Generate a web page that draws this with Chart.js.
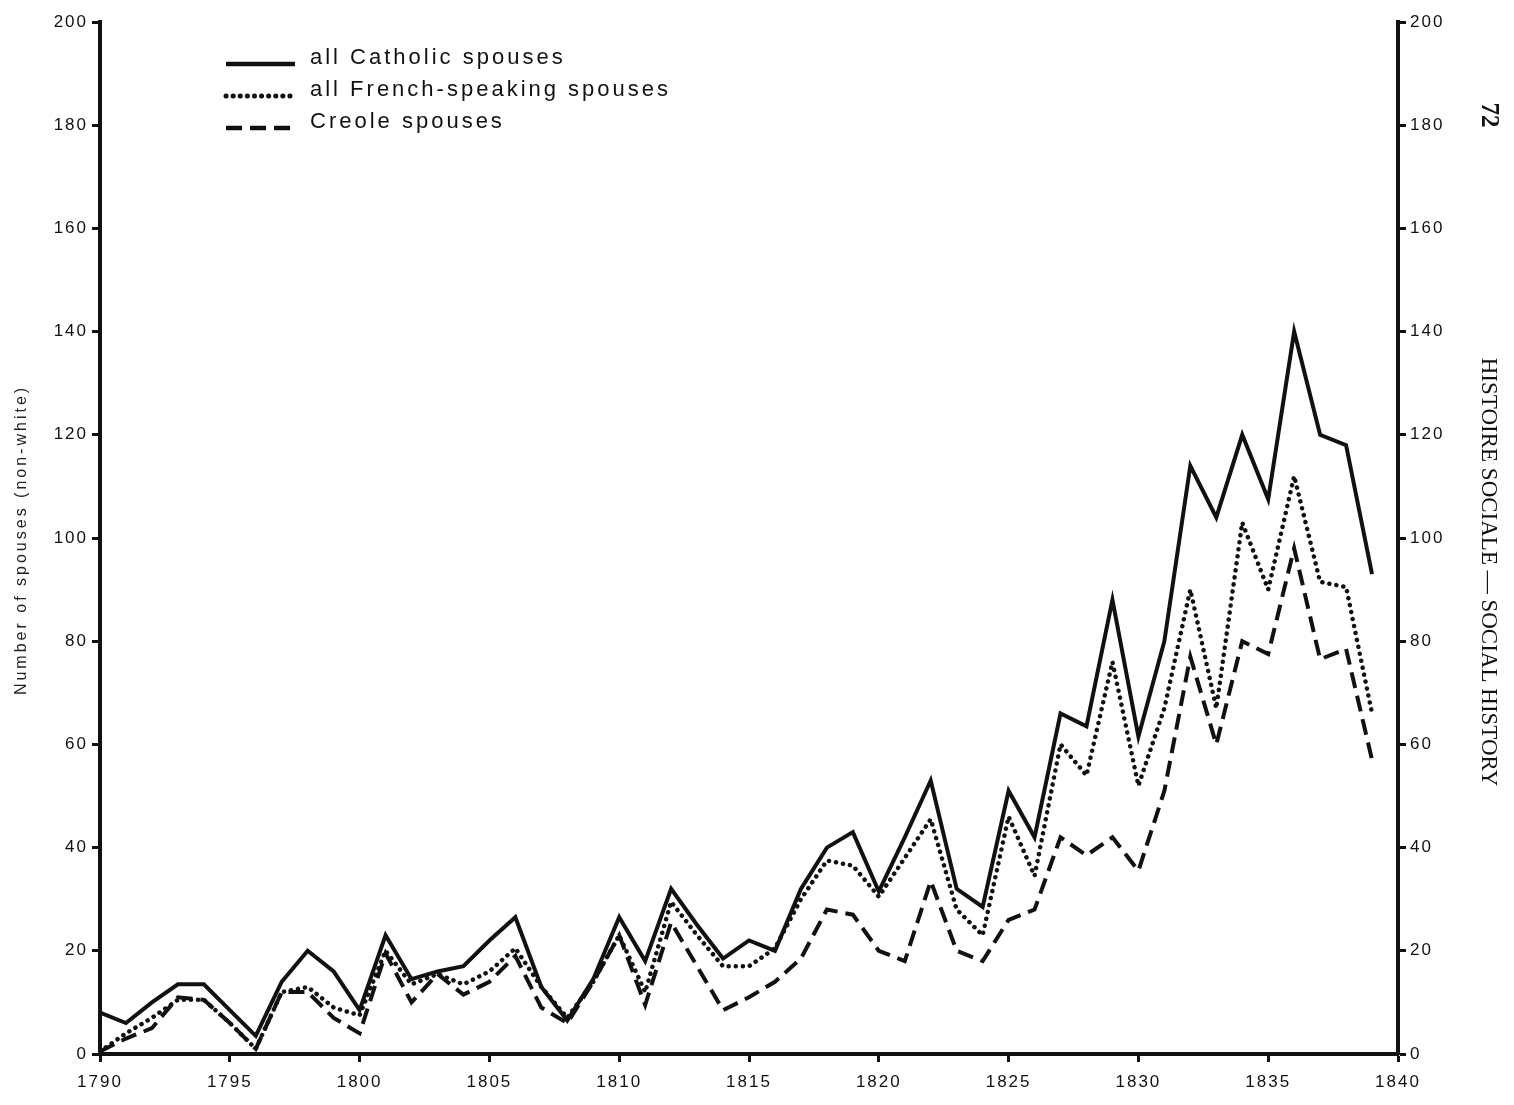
<!DOCTYPE html>
<html lang="en">
<head>
    <meta charset="UTF-8">
    <title>Non-white spouses, 1790-1839</title>
    <script src="https://cdn.jsdelivr.net/npm/chart.js"></script>
    <style>
        html, body { margin: 0; padding: 0; background: #fff; }
        #wrap { width: 1514px; height: 1105px; }
    </style>
</head>
<body>
    <div id="wrap"><canvas id="chart" width="1514" height="1105"></canvas></div>

    <script>
        // values, one per year 1790-1839
        const years = [1790, 1791, 1792, 1793, 1794, 1795, 1796, 1797, 1798, 1799,
                       1800, 1801, 1802, 1803, 1804, 1805, 1806, 1807, 1808, 1809,
                       1810, 1811, 1812, 1813, 1814, 1815, 1816, 1817, 1818, 1819,
                       1820, 1821, 1822, 1823, 1824, 1825, 1826, 1827, 1828, 1829,
                       1830, 1831, 1832, 1833, 1834, 1835, 1836, 1837, 1838, 1839];

        const catholic = [8, 6, 10, 13.5, 13.5, 8.5, 3.5, 14, 20, 16,
                          8.5, 23, 14.5, 16, 17, 22, 26.5, 13, 6.5, 14.5,
                          26.5, 18, 32, 25, 18.5, 22, 20, 32, 40, 43,
                          31.5, 42, 53, 32, 28.5, 51, 42, 66, 63.5, 88,
                          61.5, 80, 114, 104, 120, 107.5, 140, 120, 118, 93];

        const french = [0.5, 4, 7, 10.5, 10.5, 6, 1, 12, 13, 9,
                        7.5, 20, 13.5, 15.5, 13.5, 16, 20.5, 13, 7, 14,
                        23, 12, 29.5, 23, 17, 17, 20.5, 30, 37.5, 36.5,
                        30.5, 38, 45.5, 28, 23, 46, 34.5, 60, 54, 76,
                        52, 67, 90, 67, 103, 90, 112, 91.5, 90.5, 66];

        const creole = [0.5, 3, 5, 11, 10.5, 6, 1, 12, 12, 7,
                        4, 19.5, 10, 15.5, 11.5, 14, 19, 9, 6, 14,
                        23, 9.5, 25.5, 17, 8.5, 11, 14, 18.5, 28, 27,
                        20, 18, 33.5, 20, 18, 26, 28, 42, 38.5, 42,
                        35.5, 51, 77, 60, 80, 77.5, 98, 76.5, 78.5, 57];

        const seriesLabels = ['all Catholic spouses', 'all French-speaking spouses', 'Creole spouses'];
        const xTicks = [1790, 1795, 1800, 1805, 1810, 1815, 1820, 1825, 1830, 1835, 1840];
        const yTicks = [0, 20, 40, 60, 80, 100, 120, 140, 160, 180, 200];

        const INK = '#111';
        const sansFont = '"Liberation Sans", Arial, Helvetica, sans-serif';
        const serifFont = '"Liberation Serif", "DejaVu Serif", "Times New Roman", serif';

        const points = vals => years.map((yr, i) => ({ x: yr, y: vals[i] }));

        // keep the wide spacing of the old typewritten labels
        const spacingPlugin = {
            id: 'spacing',
            beforeUpdate(chart) { chart.ctx.letterSpacing = '2px'; },
            beforeDraw(chart) { chart.ctx.letterSpacing = '2px'; }
        };

        // legend in the upper left, plus the page furniture on the right edge
        const notesPlugin = {
            id: 'notes',
            afterDraw(chart) {
                const ctx = chart.ctx;
                ctx.save();

                chart.data.datasets.forEach((ds, i) => {
                    const y = 64 + i * 32;
                    ctx.strokeStyle = ds.borderColor;
                    ctx.lineWidth = ds.borderWidth + 0.5;
                    ctx.lineCap = ds.borderCapStyle || 'butt';
                    ctx.setLineDash(ds.borderDash || []);
                    ctx.beginPath();
                    ctx.moveTo(226, y);
                    ctx.lineTo(295, y);
                    ctx.stroke();
                    ctx.setLineDash([]);
                    ctx.fillStyle = INK;
                    ctx.font = '22px ' + sansFont;
                    ctx.letterSpacing = '3px';
                    ctx.textBaseline = 'middle';
                    ctx.textAlign = 'left';
                    ctx.fillText(ds.label, 310, y - 6);
                });

                // left axis title
                ctx.letterSpacing = '3px';
                ctx.font = '16px ' + sansFont;
                ctx.fillStyle = '#222';
                ctx.translate(22, 540);
                ctx.rotate(-Math.PI / 2);
                ctx.textAlign = 'center';
                ctx.textBaseline = 'middle';
                ctx.fillText('Number of spouses (non-white)', 0, 0);
                ctx.setTransform(1, 0, 0, 1, 0, 0);

                // journal page number and running head
                ctx.letterSpacing = '0px';
                ctx.fillStyle = INK;
                ctx.font = 'bold 25px ' + serifFont;
                ctx.translate(1488, 115);
                ctx.rotate(Math.PI / 2);
                ctx.fillText('72', 0, 0);
                ctx.setTransform(1, 0, 0, 1, 0, 0);

                ctx.font = '23px ' + serifFont;
                ctx.translate(1488, 572);
                ctx.rotate(Math.PI / 2);
                ctx.fillText('HISTOIRE SOCIALE \u2014 SOCIAL HISTORY', 0, 0, 436);
                ctx.restore();
            }
        };

        const tickFont = { family: sansFont, size: 17 };
        const axisGrid = { drawOnChartArea: false, drawTicks: true, tickLength: 8, tickWidth: 3, tickColor: INK };
        const axisBorder = { display: true, width: 4, color: INK };

        new Chart(document.getElementById('chart'), {
            type: 'line',
            data: {
                datasets: [
                    {
                        label: seriesLabels[0],
                        data: points(catholic),
                        borderColor: INK,
                        borderWidth: 4,
                        pointRadius: 0,
                        tension: 0,
                        fill: false
                    },
                    {
                        label: seriesLabels[1],
                        data: points(french),
                        borderColor: INK,
                        borderWidth: 4.5,
                        borderDash: [0.1, 7],
                        borderCapStyle: 'round',
                        pointRadius: 0,
                        tension: 0,
                        fill: false
                    },
                    {
                        label: seriesLabels[2],
                        data: points(creole),
                        borderColor: INK,
                        borderWidth: 4,
                        borderDash: [16, 8],
                        pointRadius: 0,
                        tension: 0,
                        fill: false
                    }
                ]
            },
            options: {
                responsive: false,
                animation: false,
                events: [],
                layout: { padding: { left: 12, right: 66, top: 22, bottom: 11 } },
                plugins: {
                    legend: { display: false },
                    tooltip: { enabled: false }
                },
                scales: {
                    x: {
                        type: 'linear',
                        min: 1790,
                        max: 1840,
                        afterBuildTicks: s => { s.ticks = xTicks.map(v => ({ value: v })); },
                        afterFit: s => { s.height = 40; },
                        ticks: { color: INK, font: tickFont, padding: 10, maxRotation: 0, callback: v => String(v) },
                        grid: axisGrid,
                        border: axisBorder
                    },
                    y: {
                        position: 'left',
                        min: 0,
                        max: 200,
                        afterBuildTicks: s => { s.ticks = yTicks.map(v => ({ value: v })); },
                        afterFit: s => { s.width = 88; },
                        ticks: { color: INK, font: tickFont, padding: 4, callback: v => String(v) },
                        grid: axisGrid,
                        border: axisBorder
                    },
                    y2: {
                        position: 'right',
                        display: true,
                        min: 0,
                        max: 200,
                        afterBuildTicks: s => { s.ticks = yTicks.map(v => ({ value: v })); },
                        afterFit: s => { s.width = 50; },
                        ticks: { color: INK, font: tickFont, padding: 4, callback: v => String(v) },
                        grid: axisGrid,
                        border: axisBorder
                    }
                }
            },
            plugins: [spacingPlugin, notesPlugin]
        });
    </script>
</body>
</html>
